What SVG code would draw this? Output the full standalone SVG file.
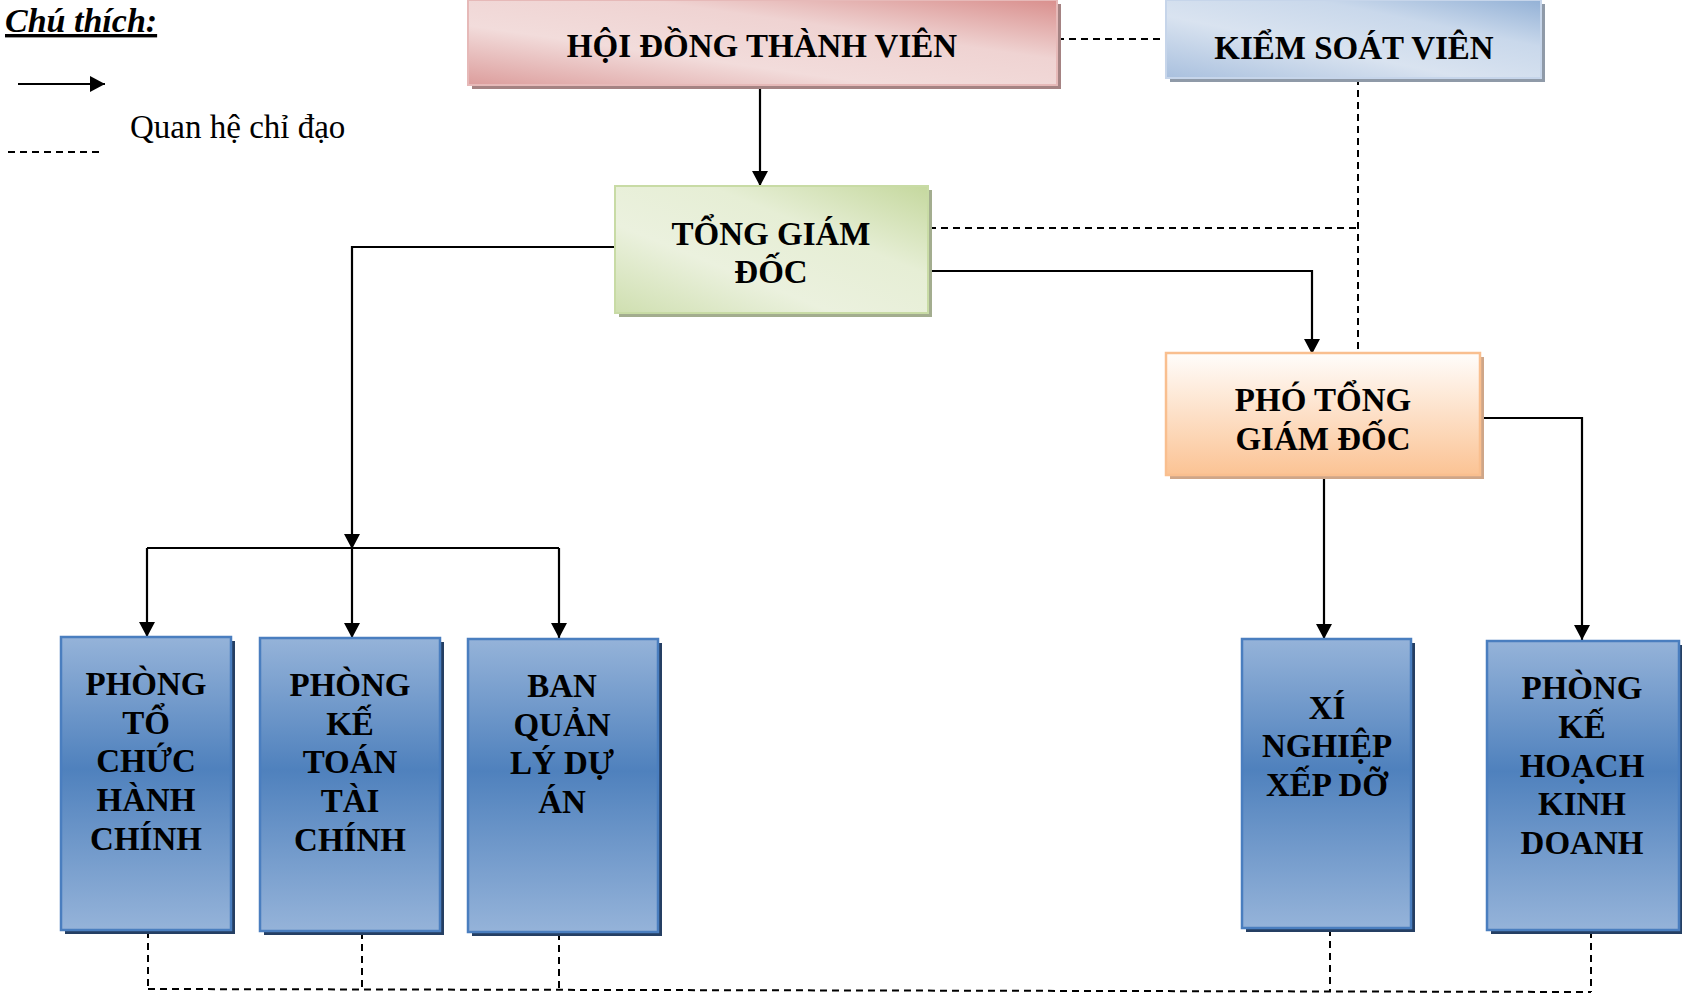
<svg xmlns="http://www.w3.org/2000/svg" width="1682" height="995" viewBox="0 0 1682 995">
<style>
.t{font-family:"Liberation Serif","Times New Roman",serif;font-weight:bold;fill:#000;text-anchor:middle}
.big{font-size:33px}
.bx{font-size:33px}
.ln{stroke:#000;stroke-width:2.2;fill:none}
.dl{stroke:#000;stroke-width:2;fill:none;stroke-dasharray:7 5}
</style>
<defs>
<marker id="ar" viewBox="0 0 15 16" refX="15" refY="8" markerWidth="15" markerHeight="16" markerUnits="userSpaceOnUse" orient="auto">
<path d="M0,0 L15,8 L0,16 Z" fill="#000"/>
</marker>
<linearGradient id="gRed" x1="0" y1="1" x2="1" y2="0">
<stop offset="0" stop-color="#dc9d9c"/>
<stop offset="0.35" stop-color="#f2dcdb"/>
<stop offset="0.65" stop-color="#efd3d2"/>
<stop offset="1" stop-color="#d98f8d"/>
</linearGradient>
<linearGradient id="gKsv" x1="0" y1="1" x2="1" y2="0">
<stop offset="0" stop-color="#a9c0de"/>
<stop offset="0.4" stop-color="#d9e3f0"/>
<stop offset="0.7" stop-color="#c9d8eb"/>
<stop offset="1" stop-color="#93b1d6"/>
</linearGradient>
<linearGradient id="gGrn" x1="0" y1="1" x2="1" y2="0">
<stop offset="0" stop-color="#cfdfb0"/>
<stop offset="0.35" stop-color="#ebf1de"/>
<stop offset="0.65" stop-color="#e6eed5"/>
<stop offset="1" stop-color="#c5d89e"/>
</linearGradient>
<linearGradient id="gOrg" x1="0" y1="0" x2="0" y2="1">
<stop offset="0" stop-color="#fffdfb"/>
<stop offset="1" stop-color="#fbc394"/>
</linearGradient>
<linearGradient id="gBlu" x1="0" y1="0" x2="0" y2="1">
<stop offset="0" stop-color="#95b3d9"/>
<stop offset="0.45" stop-color="#4f81bd"/>
<stop offset="1" stop-color="#95b3d9"/>
</linearGradient>
</defs>

<g id="legend">
<text x="5" y="32" style="font-family:'Liberation Serif',serif;font-weight:bold;font-style:italic;font-size:34px;text-decoration:underline">Chú thích:</text>
<line x1="18" y1="84" x2="105" y2="84" class="ln" marker-end="url(#ar)"/>
<text x="130" y="138" style="font-family:'Liberation Serif',serif;font-size:33px">Quan hệ chỉ đạo</text>
<line x1="8" y1="152" x2="100" y2="152" class="dl"/>
</g>

<g id="connectors">
<line x1="1057" y1="39" x2="1166" y2="39" class="dl"/>
<line x1="1358" y1="78" x2="1358" y2="353" class="dl"/>
<line x1="929" y1="228" x2="1358" y2="228" class="dl"/>
<line x1="760" y1="86" x2="760" y2="186" class="ln" marker-end="url(#ar)"/>
<polyline points="615,247 352,247 352,549" class="ln" marker-end="url(#ar)"/>
<line x1="147" y1="548" x2="559" y2="548" class="ln" style="stroke-width:1.8"/>
<line x1="147" y1="548" x2="147" y2="637" class="ln" marker-end="url(#ar)"/>
<line x1="352" y1="548" x2="352" y2="638" class="ln" marker-end="url(#ar)"/>
<line x1="559" y1="548" x2="559" y2="638" class="ln" marker-end="url(#ar)"/>
<polyline points="929,271 1312,271 1312,354" class="ln" marker-end="url(#ar)"/>
<polyline points="1480,418 1582,418 1582,640" class="ln" marker-end="url(#ar)"/>
<line x1="1324" y1="475" x2="1324" y2="639" class="ln" marker-end="url(#ar)"/>
<line x1="148" y1="931" x2="148" y2="989" class="dl"/>
<line x1="362" y1="932" x2="362" y2="990" class="dl"/>
<line x1="559" y1="933" x2="559" y2="990" class="dl"/>
<line x1="1330" y1="929" x2="1330" y2="991" class="dl"/>
<line x1="1591" y1="931" x2="1591" y2="992" class="dl"/>
<line x1="148" y1="989" x2="1591" y2="992" class="dl"/>
</g>

<g id="hdtv">
<rect x="472" y="4" width="589" height="85" fill="#a58383"/>
<rect x="468" y="0" width="589" height="85" fill="url(#gRed)" stroke="#e6b9b8" stroke-width="2"/>
<text x="762" y="57" class="t big">HỘI ĐỒNG THÀNH VIÊN</text>
</g>

<g id="ksv">
<rect x="1170" y="4" width="375" height="78" fill="#8f9aa8"/>
<rect x="1166" y="0" width="375" height="78" fill="url(#gKsv)" stroke="#c6d5ea" stroke-width="2"/>
<text x="1354" y="59" class="t big">KIỂM SOÁT VIÊN</text>
</g>

<g id="tgd">
<rect x="619" y="190" width="313" height="127" fill="#a3ad8f"/>
<rect x="615" y="186" width="313" height="127" fill="url(#gGrn)" stroke="#c8dba5" stroke-width="2"/>
<text x="771" y="245" class="t big">TỔNG GIÁM</text>
<text x="771" y="283" class="t big">ĐỐC</text>
</g>

<g id="ptgd">
<rect x="1170" y="357" width="314" height="122" fill="#cfa688"/>
<rect x="1166" y="353" width="314" height="122" fill="url(#gOrg)" stroke="#f9bf8f" stroke-width="2.5"/>
<text x="1323" y="411" class="t big">PHÓ TỔNG</text>
<text x="1323" y="450" class="t big">GIÁM ĐỐC</text>
</g>

<g id="ptchc">
<rect x="65" y="641" width="170" height="293" fill="#253f63"/>
<rect x="61" y="637" width="170" height="293" fill="url(#gBlu)" stroke="#4a7ebf" stroke-width="2.5"/>
<text class="t bx"><tspan x="146" y="695">PHÒNG</tspan><tspan x="146" y="734">TỔ</tspan><tspan x="146" y="772">CHỨC</tspan><tspan x="146" y="811">HÀNH</tspan><tspan x="146" y="850">CHÍNH</tspan></text>
</g>

<g id="pkttc">
<rect x="264" y="642" width="180" height="293" fill="#253f63"/>
<rect x="260" y="638" width="180" height="293" fill="url(#gBlu)" stroke="#4a7ebf" stroke-width="2.5"/>
<text class="t bx"><tspan x="350" y="696">PHÒNG</tspan><tspan x="350" y="735">KẾ</tspan><tspan x="350" y="773">TOÁN</tspan><tspan x="350" y="812">TÀI</tspan><tspan x="350" y="851">CHÍNH</tspan></text>
</g>

<g id="bqlda">
<rect x="472" y="643" width="190" height="293" fill="#253f63"/>
<rect x="468" y="639" width="190" height="293" fill="url(#gBlu)" stroke="#4a7ebf" stroke-width="2.5"/>
<text class="t bx"><tspan x="562" y="697">BAN</tspan><tspan x="562" y="736">QUẢN</tspan><tspan x="562" y="774">LÝ DỰ</tspan><tspan x="562" y="813">ÁN</tspan></text>
</g>

<g id="xnxd">
<rect x="1246" y="643" width="169" height="289" fill="#253f63"/>
<rect x="1242" y="639" width="169" height="289" fill="url(#gBlu)" stroke="#4a7ebf" stroke-width="2.5"/>
<text class="t bx"><tspan x="1327" y="719">XÍ</tspan><tspan x="1327" y="757">NGHIỆP</tspan><tspan x="1327" y="796">XẾP DỠ</tspan></text>
</g>

<g id="pkhkd">
<rect x="1491" y="645" width="192" height="289" fill="#253f63"/>
<rect x="1487" y="641" width="192" height="289" fill="url(#gBlu)" stroke="#4a7ebf" stroke-width="2.5"/>
<text class="t bx"><tspan x="1582" y="699">PHÒNG</tspan><tspan x="1582" y="738">KẾ</tspan><tspan x="1582" y="777">HOẠCH</tspan><tspan x="1582" y="815">KINH</tspan><tspan x="1582" y="854">DOANH</tspan></text>
</g>
</svg>
